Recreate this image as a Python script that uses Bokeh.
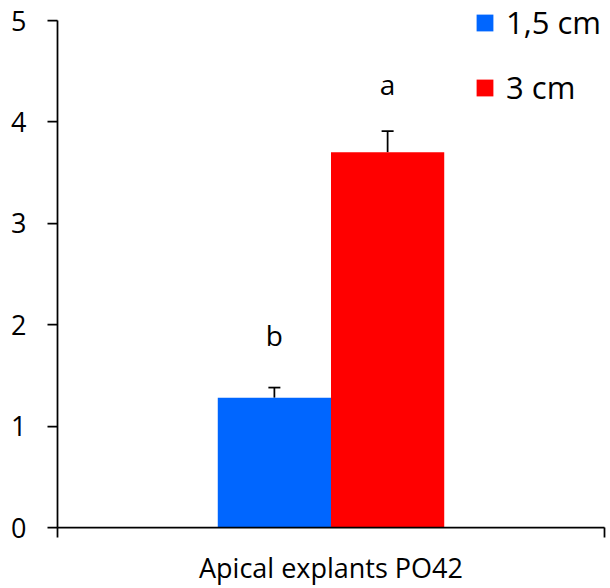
from bokeh.plotting import figure
from bokeh.models import (ColumnDataSource, Range1d, FixedTicker,
                          Whisker, TeeHead, Legend, LegendItem)
from bokeh.transform import dodge
from bokeh.core.properties import value
from bokeh.embed import file_html
from bokeh.resources import INLINE

# ---- data ----
categories = ["Apical explants PO42"]
series_names = ["1,5 cm", "3 cm"]
vals_15 = [1.28]
vals_3 = [3.70]
err_15 = [0.10]
err_3 = [0.21]
letters_15 = ["b"]
letters_3 = ["a"]
letter_y_15 = [1.90]
letter_y_3 = [4.37]
y_ticks = [0, 1, 2, 3, 4, 5]
y_max = 5

colors = ["#0066FF", "#FF0000"]
FONT = "Open Sans"
BW = 0.207

n = len(categories)
src = ColumnDataSource(dict(
    cat=categories,
    xc=[i + 0.5 for i in range(n)],
    v15=vals_15, v3=vals_3,
    up15=[v + e for v, e in zip(vals_15, err_15)],
    up3=[v + e for v, e in zip(vals_3, err_3)],
    l15=letters_15, l3=letters_3,
    ly15=letter_y_15, ly3=letter_y_3,
))

p = figure(width=610, height=588, x_range=Range1d(0, n), y_range=Range1d(0, y_max + 0.178),
           output_backend="svg", toolbar_location=None,
           min_border_left=57, min_border_right=6, min_border_top=2, min_border_bottom=50)
p.outline_line_color = None
p.grid.visible = False
p.background_fill_color = "white"
p.border_fill_color = "white"

LW = 1.75

# y axis
ya = p.yaxis[0]
ya.ticker = FixedTicker(ticks=y_ticks)
ya.bounds = (0, y_max)
ya.axis_line_color = "black"
ya.axis_line_width = LW
ya.major_tick_line_color = "black"
ya.major_tick_line_width = LW
ya.major_tick_out = 10
ya.major_tick_in = 0
ya.minor_tick_line_color = None
ya.major_label_text_font = FONT
ya.major_label_text_font_size = "27px"
ya.major_label_text_color = "black"
ya.major_label_standoff = 21

# x axis with ticks at the category boundaries
xa = p.xaxis[0]
xa.ticker = FixedTicker(ticks=list(range(n + 1)))
xa.major_label_overrides = {i: "" for i in range(n + 1)}
xa.axis_line_color = "black"
xa.axis_line_width = LW
xa.major_tick_line_color = "black"
xa.major_tick_line_width = LW
xa.major_tick_out = 10
xa.major_tick_in = 0
xa.minor_tick_line_color = None
xa.major_label_standoff = 0
xa.major_label_text_font_size = "0px"
xa.axis_label = categories[0]
xa.axis_label_text_font = FONT
xa.axis_label_text_font_size = "27px"
xa.axis_label_text_font_style = "normal"
xa.axis_label_text_color = "black"
xa.axis_label_standoff = 11

r1 = p.vbar(x=dodge("xc", -BW / 2), top="v15", width=BW, source=src,
            fill_color=colors[0], line_color=None)
r2 = p.vbar(x=dodge("xc", BW / 2), top="v3", width=BW, source=src,
            fill_color=colors[1], line_color=None)

for off, lo, hi in [(-BW / 2, "v15", "up15"), (BW / 2, "v3", "up3")]:
    w = Whisker(base=dodge("xc", off), lower=lo, upper=hi, source=src,
                line_color="black", line_width=LW, lower_head=None,
                upper_head=TeeHead(size=12, line_color="black", line_width=LW))
    p.add_layout(w)

p.text(x=dodge("xc", -BW / 2), y="ly15", text="l15", source=src,
       text_font=value(FONT), text_font_size="28px", text_align="center",
       text_baseline="middle", text_color="black")
p.text(x=dodge("xc", BW / 2), y="ly3", text="l3", source=src,
       text_font=value(FONT), text_font_size="28px", text_align="center",
       text_baseline="middle", text_color="black")

legend = Legend(items=[LegendItem(label=series_names[0], renderers=[r1]),
                       LegendItem(label=series_names[1], renderers=[r2])],
                location=(417, 419))
legend.border_line_color = None
legend.background_fill_alpha = 0
legend.padding = 0
legend.margin = 0
legend.spacing = 23
legend.glyph_width = 21
legend.glyph_height = 21
legend.label_standoff = 11
legend.label_text_font = FONT
legend.label_text_font_size = "31px"
legend.label_text_color = "black"
legend.label_height = 21
p.add_layout(legend, "center")

open("out.html", "w").write(file_html(p, INLINE))
